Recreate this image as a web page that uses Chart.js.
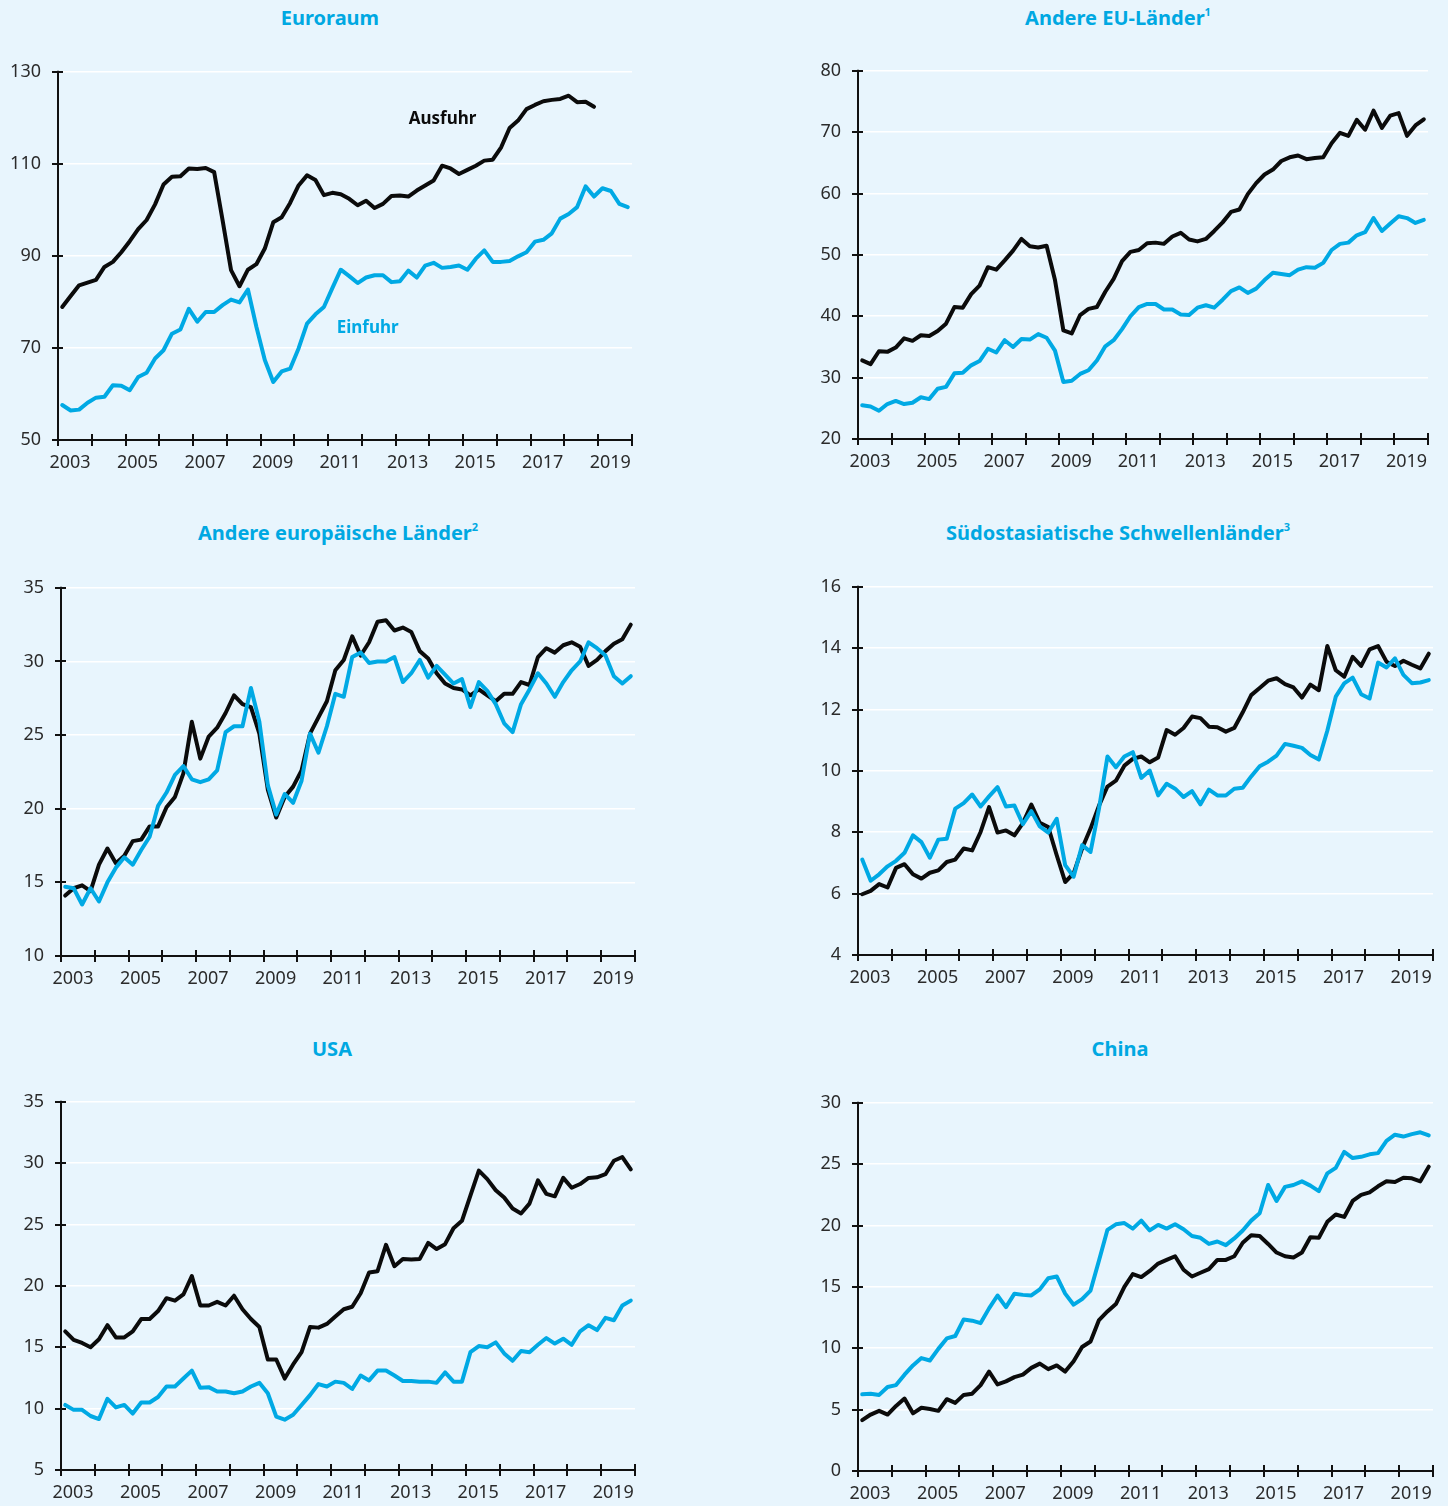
<!DOCTYPE html>
<html>
<head>
<meta charset="utf-8">
<script src="https://cdn.jsdelivr.net/npm/chart.js@4.4.1/dist/chart.umd.min.js"></script>
<style>
html,body{margin:0;padding:0;background:#e8f5fd;}
body{width:1448px;height:1506px;position:relative;overflow:hidden;font-family:'Noto Sans',sans-serif;}
.title{position:absolute;width:600px;text-align:center;color:#00a8e2;font-weight:bold;font-size:20px;line-height:24px;white-space:nowrap;}
.title sup{font-size:11px;line-height:0;position:relative;top:-1px;}
.box{position:absolute;}
canvas{display:block;}
</style>
</head>
<body>
<div class="title" style="left:30px;top:6px;">Euroraum</div>
<div class="title" style="left:818px;top:6px;">Andere EU-Länder<sup>1</sup></div>
<div class="title" style="left:38px;top:521px;">Andere europäische Länder<sup>2</sup></div>
<div class="title" style="left:818px;top:521px;">Südostasiatische Schwellenländer<sup>3</sup></div>
<div class="title" style="left:32px;top:1037px;">USA</div>
<div class="title" style="left:820px;top:1037px;">China</div>

<div class="box" style="left:0px;top:44px;"><canvas id="cA" width="650" height="440"></canvas></div>
<div class="box" style="left:790px;top:43px;"><canvas id="cB" width="658" height="440"></canvas></div>
<div class="box" style="left:0px;top:560px;"><canvas id="cC" width="650" height="440"></canvas></div>
<div class="box" style="left:790px;top:559px;"><canvas id="cD" width="658" height="440"></canvas></div>
<div class="box" style="left:0px;top:1074px;"><canvas id="cE" width="650" height="432"></canvas></div>
<div class="box" style="left:790px;top:1075px;"><canvas id="cF" width="658" height="431"></canvas></div>

<script>
// ---------- DATA (quarterly, 2003 Q1 onwards) ----------
const yearTicks = [2003,2004,2005,2006,2007,2008,2009,2010,2011,2012,2013,2014,2015,2016,2017,2018,2019,2020];
const yearLabels = ['2003','2005','2007','2009','2011','2013','2015','2017','2019'];

const euroAusfuhr = [78.9,81.3,83.6,84.2,84.8,87.6,88.7,90.8,93.2,95.8,97.8,101.2,105.5,107.2,107.3,109.0,108.9,109.1,108.2,97.7,86.9,83.4,87.0,88.2,91.6,97.3,98.4,101.5,105.3,107.5,106.5,103.2,103.7,103.4,102.4,101.0,102.0,100.4,101.3,103.0,103.1,102.9,104.2,105.3,106.4,109.6,109.0,107.8,108.7,109.6,110.7,110.9,113.6,117.8,119.4,121.9,122.8,123.6,123.9,124.1,124.8,123.4,123.5,122.4];
const euroEinfuhr = [57.6,56.4,56.6,58.1,59.2,59.4,61.9,61.8,60.8,63.7,64.6,67.7,69.5,73.1,74.0,78.5,75.7,77.8,77.8,79.3,80.5,79.9,82.7,74.6,67.4,62.6,64.9,65.5,69.9,75.3,77.3,78.9,83.0,87.0,85.6,84.1,85.3,85.8,85.8,84.3,84.5,86.8,85.3,87.9,88.5,87.4,87.6,87.9,87.0,89.4,91.2,88.7,88.7,88.9,89.9,90.8,93.1,93.5,94.9,98.1,99.1,100.6,105.1,102.9,104.7,104.1,101.3,100.6];
const euroTicks = [50,70,90,110,130];

const euAusfuhr = [32.8,32.2,34.3,34.2,34.9,36.4,36.0,36.9,36.8,37.6,38.8,41.5,41.4,43.6,45.0,48.0,47.6,49.1,50.7,52.6,51.4,51.2,51.5,45.9,37.7,37.2,40.2,41.2,41.5,44.0,46.1,49.0,50.5,50.8,51.9,52.0,51.8,53.0,53.6,52.5,52.2,52.6,53.9,55.3,57.0,57.4,59.9,61.7,63.1,63.9,65.3,65.9,66.2,65.6,65.8,65.9,68.2,69.9,69.4,72.0,70.4,73.5,70.7,72.7,73.1,69.4,71.1,72.1];
const euEinfuhr = [25.5,25.3,24.6,25.7,26.2,25.7,25.9,26.8,26.5,28.2,28.5,30.7,30.8,32.0,32.7,34.7,34.1,36.1,35.0,36.3,36.2,37.1,36.5,34.4,29.3,29.5,30.6,31.2,32.8,35.1,36.1,37.9,40.0,41.5,42.0,42.0,41.1,41.1,40.3,40.2,41.4,41.8,41.4,42.7,44.1,44.7,43.8,44.5,45.9,47.1,46.9,46.7,47.6,48.0,47.9,48.7,50.8,51.8,52.0,53.2,53.7,56.0,53.9,55.1,56.3,56.0,55.2,55.7];
const euTicks = [20,30,40,50,60,70,80];

const eurOtherAusfuhr = [14.1,14.6,14.8,14.4,16.2,17.3,16.3,16.8,17.8,17.9,18.8,18.8,20.1,20.8,22.4,25.9,23.4,24.9,25.5,26.5,27.7,27.1,26.9,25.1,21.3,19.4,20.8,21.5,22.6,25.1,26.2,27.3,29.4,30.1,31.7,30.4,31.3,32.7,32.8,32.1,32.3,32.0,30.7,30.2,29.2,28.5,28.2,28.1,27.7,28.1,27.7,27.3,27.8,27.8,28.6,28.4,30.3,30.9,30.6,31.1,31.3,31.0,29.7,30.1,30.7,31.2,31.5,32.5];
const eurOtherEinfuhr = [14.7,14.6,13.5,14.6,13.7,15.0,16.0,16.7,16.2,17.2,18.1,20.2,21.1,22.3,22.9,22.0,21.8,22.0,22.6,25.2,25.6,25.6,28.2,25.9,21.6,19.6,21.0,20.4,21.9,25.1,23.8,25.6,27.8,27.6,30.3,30.6,29.9,30.0,30.0,30.3,28.6,29.2,30.1,28.9,29.7,29.1,28.5,28.8,26.9,28.6,28.0,27.1,25.8,25.2,27.1,28.1,29.2,28.5,27.6,28.6,29.4,30.0,31.3,30.9,30.4,29.0,28.5,29.0];
const eurOtherTicks = [10,15,20,25,30,35];

const seaAusfuhr = [5.98,6.09,6.31,6.20,6.84,6.96,6.63,6.49,6.68,6.76,7.03,7.11,7.47,7.41,8.01,8.82,7.99,8.06,7.90,8.30,8.90,8.31,8.17,7.25,6.38,6.66,7.47,8.12,8.87,9.49,9.68,10.17,10.39,10.47,10.28,10.44,11.33,11.18,11.40,11.77,11.72,11.44,11.42,11.28,11.40,11.91,12.47,12.70,12.94,13.02,12.83,12.72,12.39,12.81,12.63,14.07,13.28,13.07,13.72,13.42,13.96,14.07,13.56,13.42,13.59,13.46,13.34,13.82];
const seaEinfuhr = [7.11,6.42,6.63,6.89,7.07,7.33,7.90,7.68,7.17,7.76,7.79,8.77,8.95,9.23,8.84,9.17,9.47,8.84,8.87,8.26,8.69,8.19,7.99,8.44,6.93,6.55,7.58,7.36,8.77,10.47,10.12,10.47,10.61,9.77,10.01,9.20,9.58,9.42,9.15,9.34,8.91,9.39,9.20,9.20,9.42,9.45,9.82,10.15,10.30,10.50,10.88,10.82,10.75,10.52,10.37,11.31,12.42,12.85,13.04,12.50,12.36,13.53,13.37,13.67,13.13,12.86,12.88,12.96];
const seaTicks = [4,6,8,10,12,14,16];

const usaAusfuhr = [16.3,15.6,15.35,15.0,15.65,16.8,15.8,15.8,16.3,17.3,17.3,17.95,19.0,18.8,19.3,20.8,18.4,18.4,18.7,18.4,19.2,18.1,17.3,16.65,14.0,14.0,12.45,13.6,14.6,16.65,16.6,16.9,17.5,18.1,18.3,19.4,21.1,21.2,23.35,21.6,22.2,22.15,22.2,23.5,23.0,23.4,24.7,25.3,27.35,29.4,28.7,27.8,27.2,26.3,25.9,26.7,28.6,27.5,27.3,28.8,28.0,28.3,28.8,28.85,29.1,30.2,30.5,29.5];
const usaEinfuhr = [10.3,9.9,9.9,9.4,9.15,10.8,10.1,10.3,9.6,10.5,10.5,10.95,11.8,11.8,12.45,13.1,11.7,11.75,11.4,11.4,11.25,11.4,11.8,12.1,11.25,9.35,9.1,9.5,10.3,11.1,12.0,11.8,12.2,12.1,11.6,12.7,12.3,13.1,13.1,12.7,12.25,12.25,12.2,12.2,12.1,12.95,12.2,12.2,14.6,15.1,15.0,15.4,14.5,13.9,14.7,14.6,15.2,15.75,15.3,15.7,15.2,16.3,16.8,16.4,17.4,17.2,18.4,18.8];
const usaTicks = [5,10,15,20,25,30,35];

const chinaAusfuhr = [4.15,4.6,4.9,4.6,5.3,5.9,4.7,5.15,5.05,4.9,5.85,5.55,6.2,6.3,7.0,8.1,7.05,7.3,7.65,7.85,8.4,8.75,8.3,8.6,8.1,8.95,10.1,10.55,12.3,13.0,13.6,15.0,16.05,15.8,16.3,16.9,17.2,17.5,16.4,15.85,16.15,16.45,17.2,17.2,17.5,18.6,19.2,19.15,18.5,17.8,17.5,17.4,17.8,19.05,19.0,20.3,20.9,20.7,22.0,22.5,22.7,23.2,23.6,23.55,23.9,23.85,23.6,24.8];
const chinaEinfuhr = [6.25,6.3,6.2,6.85,7.0,7.85,8.6,9.2,9.0,9.95,10.8,11.0,12.35,12.25,12.05,13.25,14.3,13.35,14.45,14.35,14.3,14.8,15.7,15.85,14.45,13.55,14.0,14.7,17.15,19.65,20.1,20.2,19.75,20.4,19.6,20.05,19.75,20.1,19.7,19.15,19.0,18.5,18.7,18.4,18.95,19.6,20.4,21.0,23.3,22.0,23.15,23.3,23.6,23.25,22.8,24.25,24.7,26.0,25.5,25.6,25.8,25.9,26.9,27.4,27.25,27.45,27.6,27.35];
const chinaTicks = [0,5,10,15,20,25,30];

// quarter time axis: 2003 Q1 ... 2019 Q4, plotted at mid-quarter
const quarterTimes = [];
for (let yr = 2003; yr <= 2019; yr++) { for (let q = 1; q <= 4; q++) quarterTimes.push(yr + (q - 0.5) / 4); }

// ---------- STYLE ----------
const BLACK = '#0b0b0b';
const BLUE = '#00a9e4';
Chart.defaults.font.family = "'Noto Sans', sans-serif";
Chart.defaults.color = '#2b2b2b';

const axisPlugin = {
  id: 'axisMarks',
  afterDraw(chart) {
    const {ctx, chartArea: a, scales: {x, y}} = chart;
    ctx.save();
    ctx.strokeStyle = '#111';
    ctx.lineWidth = 2;
    ctx.lineCap = 'butt';
    ctx.beginPath();
    ctx.moveTo(a.left, a.top - 1); ctx.lineTo(a.left, a.bottom + 1);
    ctx.moveTo(a.left - 1, a.bottom); ctx.lineTo(a.right + 1, a.bottom);
    y.ticks.forEach(t => { const py = Math.round(y.getPixelForValue(t.value)); ctx.moveTo(a.left - 6, py); ctx.lineTo(a.left + 5, py); });
    x.ticks.forEach(t => { const px = Math.round(x.getPixelForValue(t.value)); ctx.moveTo(px, a.bottom - 6); ctx.lineTo(px, a.bottom + 6); });
    ctx.stroke();
    ctx.restore();
  }
};

function seriesLabelPlugin(items) {
  return {
    id: 'seriesLabels',
    afterDatasetsDraw(chart) {
      const {ctx, scales: {x, y}} = chart;
      ctx.save();
      ctx.font = "bold 17px 'Noto Sans', sans-serif";
      ctx.textAlign = 'center';
      ctx.textBaseline = 'middle';
      items.forEach(it => {
        ctx.fillStyle = it.color;
        ctx.fillText(it.text, x.getPixelForValue(it.x), y.getPixelForValue(it.y));
      });
      ctx.restore();
    }
  };
}

function toPoints(values) { return values.map((v, i) => ({x: quarterTimes[i], y: v})); }

function makeChart(id, ausfuhr, einfuhr, yTicks, yWidth, padRight, extraPlugins) {
  const el = document.getElementById(id);
  const h = el.height;
  return new Chart(el, {
    type: 'line',
    data: {
      datasets: [
        {label: 'Einfuhr', data: toPoints(einfuhr), borderColor: BLUE, borderWidth: 4, pointRadius: 0, tension: 0, borderJoinStyle: 'round', borderCapStyle: 'round', fill: false},
        {label: 'Ausfuhr', data: toPoints(ausfuhr), borderColor: BLACK, borderWidth: 4, pointRadius: 0, tension: 0, borderJoinStyle: 'round', borderCapStyle: 'round', fill: false}
      ]
    },
    options: {
      responsive: false,
      animation: false,
      devicePixelRatio: 1,
      layout: {padding: {top: 0, right: padRight, bottom: h - 27 - 369 - 40, left: 0}},
      plugins: {legend: {display: false}, tooltip: {enabled: false}, title: {display: false}},
      scales: {
        x: {
          type: 'linear',
          min: yearTicks[0],
          max: yearTicks[yearTicks.length - 1],
          afterBuildTicks: s => { s.ticks = yearTicks.map(v => ({value: v})); },
          afterFit: s => { s.height = 40; },
          grid: {display: false, drawTicks: false},
          border: {display: false},
          ticks: {
            autoSkip: false, maxRotation: 0, minRotation: 0, padding: 12, labelOffset: 12,
            font: {size: 18}, color: '#2b2b2b',
            callback: v => yearLabels.includes(String(v)) ? String(v) : ''
          }
        },
        y: {
          min: yTicks[0],
          max: yTicks[yTicks.length - 1],
          afterBuildTicks: s => { s.ticks = yTicks.map(v => ({value: v})); },
          afterFit: s => { s.width = yWidth; },
          grid: {color: '#ffffff', lineWidth: 1.6, drawTicks: false},
          border: {display: false},
          ticks: {padding: 17, font: {size: 18}, color: '#2b2b2b'}
        }
      }
    },
    plugins: [axisPlugin].concat(extraPlugins || [])
  });
}

makeChart('cA', euroAusfuhr, euroEinfuhr, euroTicks, 58, 18, [seriesLabelPlugin([
  {text: 'Ausfuhr', x: 2014.39, y: 119.8, color: BLACK},
  {text: 'Einfuhr', x: 2012.17, y: 74.3, color: BLUE}
])]);
makeChart('cB', euAusfuhr, euEinfuhr, euTicks, 68, 20);
makeChart('cC', eurOtherAusfuhr, eurOtherEinfuhr, eurOtherTicks, 61, 15);
makeChart('cD', seaAusfuhr, seaEinfuhr, seaTicks, 68, 15);
makeChart('cE', usaAusfuhr, usaEinfuhr, usaTicks, 61, 15);
makeChart('cF', chinaAusfuhr, chinaEinfuhr, chinaTicks, 68, 15);
</script>
</body>
</html>
